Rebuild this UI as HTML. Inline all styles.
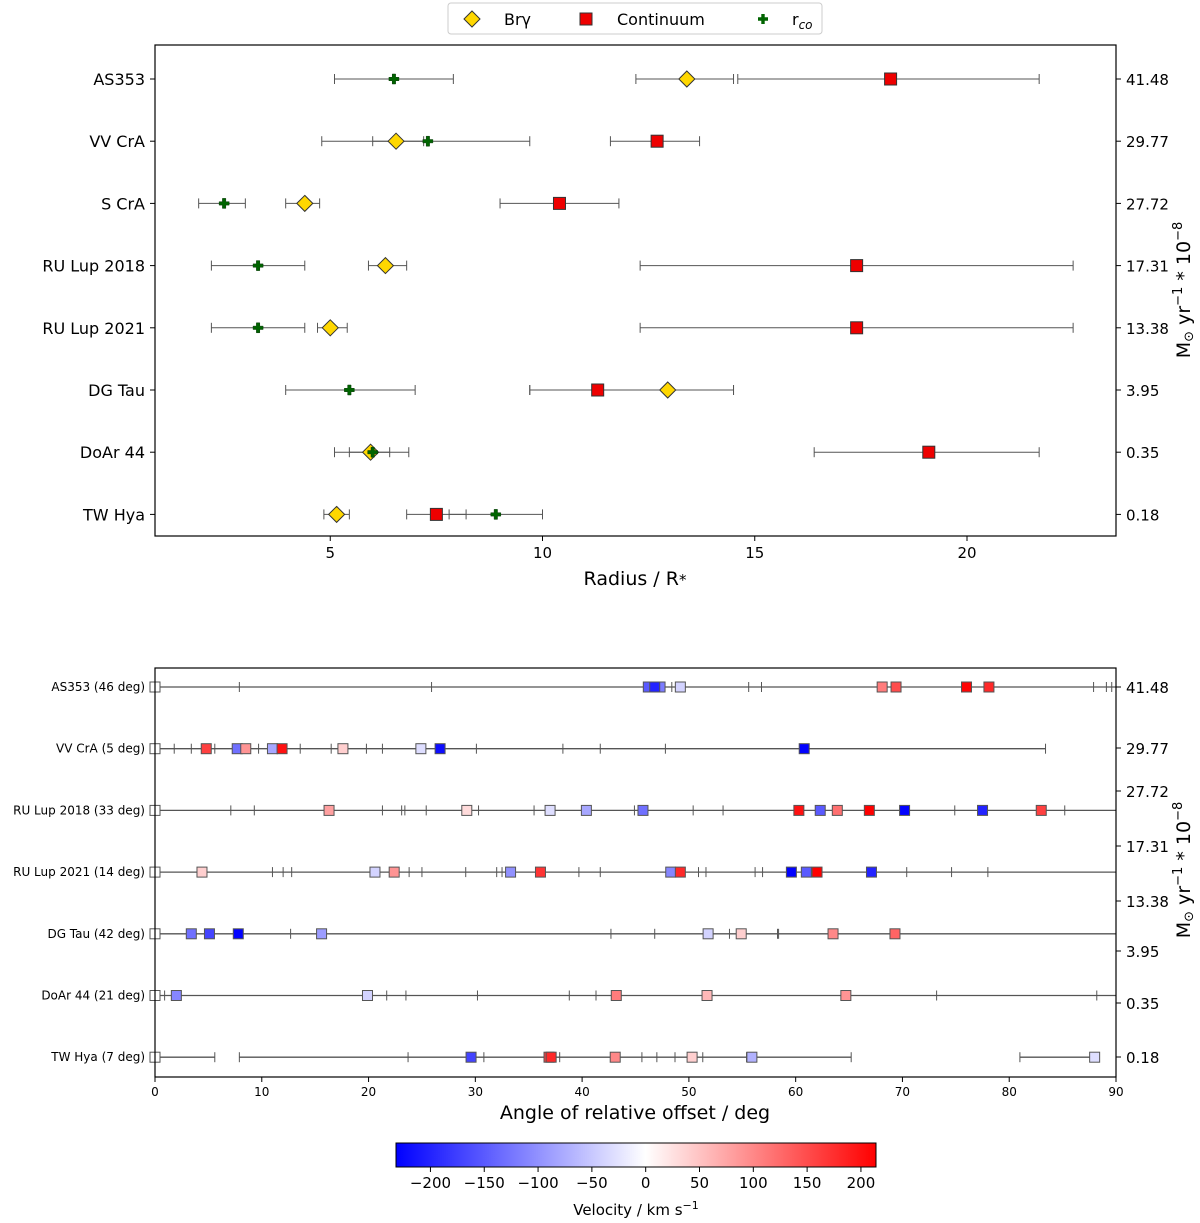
<!DOCTYPE html>
<html><head><meta charset="utf-8"><style>
body{margin:0;background:#fff;}
svg{display:block;font-family:"DejaVu Sans","Liberation Sans",sans-serif;}
</style></head><body>
<svg id="c" width="1200" height="1223" xmlns="http://www.w3.org/2000/svg"></svg>
<script>
const NS="http://www.w3.org/2000/svg";
const svg=document.getElementById('c');
// ---------- data: top panel ----------
const objects=["AS353","VV CrA","S CrA","RU Lup 2018","RU Lup 2021","DG Tau","DoAr 44","TW Hya"];
const accRates=["41.48","29.77","27.72","17.31","13.38","3.95","0.35","0.18"];
const brgVal=[13.4,6.55,4.4,6.3,5.0,12.95,5.95,5.15];
const brgLo=[12.2,4.8,3.95,5.9,4.7,9.7,5.1,4.85];
const brgHi=[14.5,7.2,4.75,6.8,5.4,14.5,6.85,5.45];
const contVal=[18.2,12.7,10.4,17.4,17.4,11.3,19.1,7.5];
const contLo=[14.6,11.6,9.0,12.3,12.3,9.7,16.4,6.8];
const contHi=[21.7,13.7,11.8,22.5,22.5,14.5,21.7,8.2];
const rcoVal=[6.5,7.3,2.5,3.3,3.3,5.45,6.0,8.9];
const rcoLo=[5.1,6.0,1.9,2.2,2.2,3.95,5.45,7.8];
const rcoHi=[7.9,9.7,3.0,4.4,4.4,7.0,6.4,10.0];
const topTicks=[5,10,15,20];
// ---------- data: bottom panel ----------
const rows=["AS353 (46 deg)","VV CrA (5 deg)","RU Lup 2018 (33 deg)","RU Lup 2021 (14 deg)","DG Tau (42 deg)","DoAr 44 (21 deg)","TW Hya (7 deg)"];
const rowRates=["41.48","29.77","27.72","17.31","13.38","3.95","0.35","0.18"];
const rowSegs=[[[0,90]],[[0,83.4]],[[0,90]],[[0,90]],[[0,90]],[[0,90]],[[0,5.6],[7.9,65.2],[81,88]]];
const rowTicks=[[7.9,25.9,48.4,55.6,56.8,87.9,89.1,89.6],
[1.8,3.4,5.6,9.7,13.6,16.5,19.8,21.3,30.1,38.2,41.7,47.8,83.4],
[7.1,9.3,21.3,23.1,23.4,25.4,30.3,35.5,44.9,50.4,53.2,74.9,85.2],
[11.0,12.0,12.8,23.8,25.0,29.1,32.0,32.5,39.7,41.7,50.9,51.6,56.2,56.9,70.4,74.6,78.0],
[12.7,42.7,46.8,53.8,58.3,58.4],
[0.9,21.7,23.5,30.2,38.8,41.3,73.2,88.2],
[5.6,7.9,23.7,30.8,37.9,45.6,47.0,48.7,51.3,55.4,65.2,81.0]];
const rowAngles=[[0,46.2,47.3,46.8,49.2,68.1,69.4,76.0,78.1],
[0,4.8,7.7,8.5,11.0,11.9,17.6,24.9,26.7,60.8],
[0,16.3,29.2,37.0,40.4,45.7,60.3,62.3,63.9,66.9,70.2,77.5,83.0],
[0,4.4,20.6,22.4,33.3,36.1,48.3,49.2,59.6,61.0,62.0,67.1],
[0,3.4,5.1,7.8,15.6,51.8,54.9,63.5,69.3],
[0,2.0,19.9,43.2,51.7,64.7],
[0,29.6,36.9,37.1,43.1,50.3,55.9,88.0]];
const rowVels=[[0,-150,-120,-200,-40,110,150,210,180],
[0,160,-130,90,-80,200,40,-30,-220,-230],
[0,80,30,-30,-80,-130,200,-150,120,220,-230,-200,160],
[0,40,-40,90,-100,170,-110,180,-230,-150,220,-200],
[0,-130,-170,-230,-90,-40,40,100,130],
[0,-110,-40,110,60,90],
[0,-170,160,180,100,40,-70,-30]];
const botTicks=[0,10,20,30,40,50,60,70,80,90];
const cbTicks=[-200,-150,-100,-50,0,50,100,150,200];
const vMin=-232,vMax=214;

function el(tag,attrs,parent,text){const e=document.createElementNS(NS,tag);for(const k in attrs)e.setAttribute(k,attrs[k]);if(text!==undefined)e.textContent=text;(parent||svg).appendChild(e);return e;}
function color(v){let r,g,b;if(v<0){const t=Math.min(1,v/vMin);r=g=Math.round(255*(1-t));b=255;}else{const t=Math.min(1,v/vMax);r=255;g=b=Math.round(255*(1-t));}return `rgb(${r},${g},${b})`;}

// ---------- top panel ----------
const TL=155,TR=1116,TT=45,TB=536;
const xT=v=>118+v*42.45;
const yT=i=>79+i*62.2;
let g=el('g',{});

topTicks.forEach(t=>{const x=xT(t);el('line',{x1:x,x2:x,y1:TB,y2:TB+5,stroke:'#000'},g);const tx=el('text',{x:x,y:TB+22,'font-size':15,'text-anchor':'middle'},g,t);});
objects.forEach((o,i)=>{const y=yT(i);
 el('line',{x1:TL-5,x2:TL,y1:y,y2:y,stroke:'#000'},g);
 const t=el('text',{x:TL-10,y:y+6,'font-size':16,'text-anchor':'end'},g,o);
 el('line',{x1:TR,x2:TR+5,y1:y,y2:y,stroke:'#000'},g);
 const r=el('text',{x:TR+10,y:y+6,'font-size':15},g,accRates[i]);
 function eb(v,lo,hi){el('line',{x1:xT(lo),x2:xT(hi),y1:y,y2:y,stroke:'#555','stroke-width':1},g);[lo,hi].forEach(q=>el('line',{x1:xT(q),x2:xT(q),y1:y-5,y2:y+5,stroke:'#555'},g));}
 eb(brgVal[i],brgLo[i],brgHi[i]);eb(contVal[i],contLo[i],contHi[i]);eb(rcoVal[i],rcoLo[i],rcoHi[i]);
 let x=xT(brgVal[i]);const d=el('polygon',{points:`${x},${y-8} ${x+8},${y} ${x},${y+8} ${x-8},${y}`,fill:'#ffd700',stroke:'#333'},g);
 x=xT(contVal[i]);const s=el('rect',{x:x-6,y:y-6,width:12,height:12,fill:'#ee0000',stroke:'#333'},g);
 x=xT(rcoVal[i]);const p=el('path',{d:`M${x-5},${y-1.7}h3.3v-3.3h3.4v3.3h3.3v3.4h-3.3v3.3h-3.4v-3.3h-3.3z`,fill:'#006400',stroke:'#0a3a0a','stroke-width':0.5},g);
});
el('rect',{x:TL,y:TT,width:TR-TL,height:TB-TT,fill:'none',stroke:'#000','stroke-width':1.2},g);
let t=el('text',{x:635,y:585,'font-size':19,'text-anchor':'middle'},g,'Radius / R');el('tspan',{'font-size':15,dy:0},t,'*');

// legend
let lg=el('g',{});
el('rect',{x:448,y:3,width:374,height:31,rx:3,fill:'#fff',stroke:'#ccc'},lg);
el('polygon',{points:'472,11 480,19 472,27 464,19',fill:'#ffd700',stroke:'#333'},lg);
el('text',{x:504,y:25,'font-size':16},lg,'Brγ');
el('rect',{x:580,y:13,width:12,height:12,fill:'#ee0000',stroke:'#333'},lg);
el('text',{x:617,y:25,'font-size':16},lg,'Continuum');
el('path',{d:'M758,17.3h3.3v-3.3h3.4v3.3h3.3v3.4h-3.3v3.3h-3.4v-3.3h-3.3z',fill:'#006400'},lg);
let rc=el('text',{x:792,y:25,'font-size':16},lg,'r');el('tspan',{'font-size':12,dy:4,'font-style':'italic'},rc,'co');
// right titles
[[1190,290],[1190,870]].forEach(([x,y],k)=>{const tt=el('text',{x:x,y:y,'font-size':19,'text-anchor':'middle',transform:`rotate(-90 ${x} ${y})`},svg);
 tt.textContent='M';el('tspan',{'font-size':13,dy:3},tt,'⊙');el('tspan',{dy:-3},tt,' yr');el('tspan',{'font-size':13,dy:-8},tt,'−1');el('tspan',{dy:8},tt,' * 10');el('tspan',{'font-size':13,dy:-8},tt,'−8');
 });

// ---------- bottom panel ----------
const BL=155,BR=1116,BT=668,BB=1077;
const xB=v=>BL+v*(BR-BL)/90;
const yB=i=>687+i*61.7;
const rightY=[687,748,791,846,901,951,1003,1057];
let b=el('g',{});
botTicks.forEach(tk=>{const x=xB(tk);el('line',{x1:x,x2:x,y1:BB,y2:BB+5,stroke:'#000'},b);const tx=el('text',{x:x,y:BB+19,'font-size':12,'text-anchor':'middle'},b,tk);});
rowRates.forEach((r,i)=>{const y=rightY[i];el('line',{x1:BR,x2:BR+5,y1:y,y2:y,stroke:'#000'},b);const tx=el('text',{x:BR+10,y:y+6,'font-size':15},b,r);});
rows.forEach((rn,i)=>{const y=yB(i);
 el('line',{x1:BL-5,x2:BL,y1:y,y2:y,stroke:'#000'},b);
 const tx=el('text',{x:BL-10,y:y+4,'font-size':12,'text-anchor':'end'},b,rn);
 rowSegs[i].forEach(s=>el('line',{x1:xB(s[0]),x2:xB(s[1]),y1:y,y2:y,stroke:'#555','stroke-width':1.3},b));
 rowTicks[i].forEach(q=>el('line',{x1:xB(q),x2:xB(q),y1:y-5,y2:y+5,stroke:'#555'},b));
 rowAngles[i].forEach((a,j)=>{const m=el('rect',{x:xB(a)-5,y:y-5,width:10,height:10,fill:color(rowVels[i][j]),stroke:'#555','stroke-width':1},b);
  });
});
el('rect',{x:BL,y:BT,width:BR-BL,height:BB-BT,fill:'none',stroke:'#000','stroke-width':1.2},b);
t=el('text',{x:635,y:1119,'font-size':19,'text-anchor':'middle'},b,'Angle of relative offset / deg');

// ---------- colorbar ----------
const cb=el('g',{});
const defs=el('defs',{});const gr=el('linearGradient',{id:'bwr',x1:0,x2:1,y1:0,y2:0},defs);
const z=(-vMin)/(vMax-vMin);
el('stop',{offset:0,'stop-color':'#0000ff'},gr);el('stop',{offset:z,'stop-color':'#ffffff'},gr);el('stop',{offset:1,'stop-color':'#ff0000'},gr);
const CL=396,CR=876;const xC=v=>CL+(v-vMin)/(vMax-vMin)*(CR-CL);
el('rect',{x:CL,y:1143,width:CR-CL,height:24,fill:'url(#bwr)',stroke:'#000'},cb);
cbTicks.forEach(v=>{const x=xC(v);el('line',{x1:x,x2:x,y1:1167,y2:1172,stroke:'#000'},cb);const tx=el('text',{x:x,y:1188,'font-size':15,'text-anchor':'middle'},cb,v<0?'−'+(-v):v);});
t=el('text',{x:636,y:1215,'font-size':15,'text-anchor':'middle'},cb,'Velocity / km s');el('tspan',{'font-size':11,dy:-6},t,'−1');

</script>
</body></html>
